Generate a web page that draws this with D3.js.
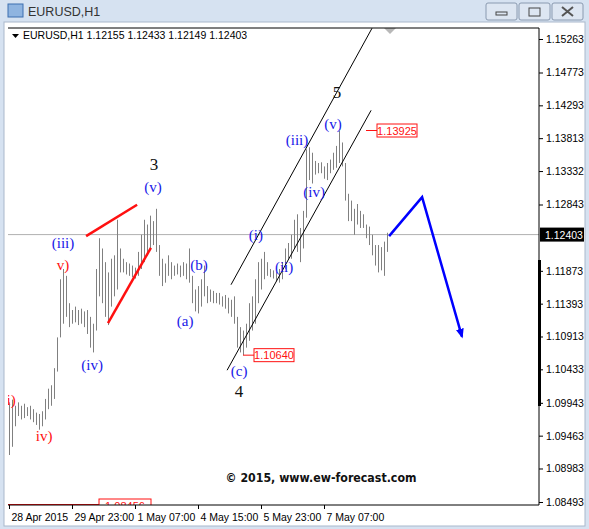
<!DOCTYPE html>
<html><head><meta charset="utf-8">
<script src="https://cdn.jsdelivr.net/npm/d3@7"></script>
<style>body{margin:0;background:#d6e2f1;}svg{display:block;}</style>
</head><body>
<svg id="c" width="589" height="529"></svg>
<script>
// hourly bars, high / low
const highs = [1.0995,1.0999,1.0990,1.0995,1.0990,1.0993,1.0988,1.0990,1.0985,1.0980,1.0978,1.0982,1.1000,1.1015,1.1020,1.1045,1.1090,1.1175,1.1190,1.1180,
  1.1140,1.1130,1.1135,1.1130,1.1132,1.1128,1.1130,1.1120,1.1110,1.1190,1.1235,1.1220,1.1200,1.1185,1.1205,1.1210,1.1262,1.1220,1.1205,1.1200,
  1.1198,1.1195,1.1192,1.1215,1.1240,1.1262,1.1255,1.1268,1.1260,1.1278,1.1225,1.1205,1.1198,1.1210,1.1200,1.1195,1.1198,1.1195,1.1200,1.1198,
  1.1220,1.1180,1.1160,1.1165,1.1175,1.1195,1.1165,1.1160,1.1158,1.1155,1.1155,1.1150,1.1152,1.1148,1.1145,1.1150,1.1120,1.1105,1.1100,1.1110,
  1.1140,1.1150,1.1175,1.1200,1.1205,1.1215,1.1200,1.1190,1.1188,1.1186,1.1190,1.1200,1.1220,1.1228,1.1240,1.1262,1.1270,1.1250,1.1275,1.1365,
  1.1368,1.1360,1.1348,1.1345,1.1346,1.1340,1.1345,1.1350,1.1360,1.1370,1.1392,1.1375,1.1345,1.1300,1.1290,1.1278,1.1285,1.1275,1.1270,1.1255,
  1.1252,1.1240,1.1225,1.1225,1.1222,1.1230,1.1243];
const lows = [1.0918,1.0930,1.0960,1.0975,1.0970,1.0972,1.0975,1.0970,1.0966,1.0962,1.0955,1.0960,1.0970,1.0985,1.0990,1.1000,1.1040,1.1090,1.1110,1.1120,
  1.1105,1.1110,1.1112,1.1108,1.1110,1.1105,1.1095,1.1075,1.1068,1.1100,1.1150,1.1140,1.1120,1.1108,1.1135,1.1150,1.1160,1.1185,1.1185,1.1182,
  1.1180,1.1178,1.1176,1.1180,1.1190,1.1200,1.1210,1.1220,1.1225,1.1215,1.1180,1.1165,1.1170,1.1180,1.1175,1.1180,1.1182,1.1178,1.1180,1.1175,
  1.1170,1.1140,1.1128,1.1125,1.1135,1.1150,1.1140,1.1142,1.1140,1.1140,1.1138,1.1135,1.1132,1.1125,1.1120,1.1110,1.1075,1.1068,1.1064,1.1075,
  1.1085,1.1100,1.1110,1.1140,1.1160,1.1175,1.1180,1.1178,1.1176,1.1172,1.1170,1.1175,1.1190,1.1205,1.1205,1.1220,1.1215,1.1200,1.1220,1.1265,
  1.1320,1.1315,1.1328,1.1330,1.1330,1.1322,1.1320,1.1330,1.1335,1.1338,1.1345,1.1340,1.1290,1.1260,1.1260,1.1240,1.1255,1.1250,1.1250,1.1235,
  1.1225,1.1210,1.1195,1.1185,1.1188,1.1180,1.1215];
const priceTicks = [1.15263,1.14773,1.14293,1.13813,1.13332,1.12843,1.11873,1.11393,1.10913,1.10433,1.09943,1.09463,1.08983,1.08493];
const timeLabels = ["28 Apr 2015","29 Apr 23:00","1 May 07:00","4 May 15:00","5 May 23:00","7 May 07:00"];
const timeIdx = [0,21,42,63,84,105];
const lastPrice = 1.12403;
// wave labels [bar index, price, text, colour]
const waveLabels = [
  [0,1.0996,"ii)","red"],[11.7,1.0944,"iv)","red"],[18,1.1225,"(iii)","blue"],[18,1.1194,"v)","red"],
  [27.7,1.1047,"(iv)","blue"],[48.3,1.1341,"3","black"],[48,1.1307,"(v)","blue"],
  [58.7,1.1111,"(a)","blue"],[63.3,1.1194,"(b)","blue"],[76.7,1.1038,"(c)","blue"],[76.7,1.1009,"4","black"],
  [82.3,1.1237,"(i)","blue"],[91.7,1.1191,"(ii)","blue"],[96,1.1377,"(iii)","blue"],[101.7,1.1300,"(iv)","blue"],
  [108,1.1399,"(v)","blue"],[109.3,1.1446,"5","black"]];
const redLines = [[[25.7,1.1238],[42.7,1.1284]],[[33,1.1111],[47.3,1.1221]]];
const channel = [[[74,1.1167],[121,1.1542]],[[72.7,1.1042],[120.7,1.1422]]];
const forecast = [[126.7,1.1238],[137.7,1.1295],[151,1.1091]];
// price tags [bar index, price, text]
const tags = [[78,1.1064,"1.10640"],[119,1.13925,"1.13925"]];

const svg = d3.select("#c");
const L = 8, R = 539, T = 28, B = 505;
const AX = "Tahoma, Liberation Sans, sans-serif";
const x = d3.scaleLinear().domain([0,126]).range([9,387]);
const y = d3.scaleLinear().domain([1.08493,1.15263]).range([502,39]);

// window chrome
svg.append("rect").attr("x",4).attr("y",22).attr("width",581).attr("height",504).attr("fill","#fff").attr("stroke","#a9b8cc");
svg.append("text").attr("x",28).attr("y",16).attr("font-family",AX).attr("font-size",12.5).attr("fill","#333").text("EURUSD,H1");
svg.append("rect").attr("x",8).attr("y",4).attr("width",15).attr("height",13).attr("fill","#8fb4e0").attr("stroke","#3d6fb0");
[486,519,552].forEach(bx=>{
  svg.append("rect").attr("x",bx).attr("y",3).attr("width",31).attr("height",17).attr("rx",2).attr("fill","#dde6f2").attr("stroke","#8a9ab0");
});
svg.append("rect").attr("x",496).attr("y",12).attr("width",11).attr("height",3).attr("fill","none").attr("stroke","#444");
svg.append("rect").attr("x",529).attr("y",8).attr("width",11).attr("height",8).attr("fill","none").attr("stroke","#444");
svg.append("path").attr("d","M562,7 L573,16 M573,7 L562,16").attr("stroke","#555").attr("stroke-width",2);

const g = svg.append("g");
g.append("defs").append("clipPath").attr("id","pc").append("rect").attr("x",L).attr("y",T).attr("width",R-L).attr("height",B-T);
const p = g.append("g").attr("clip-path","url(#pc)");

// last price line
p.append("line").attr("x1",L).attr("x2",R).attr("y1",y(lastPrice)).attr("y2",y(lastPrice)).attr("stroke","#b0b0b0");

// bars
p.selectAll("line.bar").data(highs).join("line").attr("class","bar")
  .attr("x1",(d,i)=>x(i)+0.5).attr("x2",(d,i)=>x(i)+0.5)
  .attr("y1",d=>y(d)).attr("y2",(d,i)=>y(lows[i])).attr("stroke","#808080").attr("stroke-width",1);

const line = d3.line().x(d=>x(d[0])).y(d=>y(d[1]));
redLines.forEach(s=>p.append("path").attr("d",line(s)).attr("stroke","#ff1010").attr("stroke-width",2.5).attr("fill","none"));
channel.forEach(s=>p.append("path").attr("d",line(s)).attr("stroke","#000").attr("stroke-width",1).attr("fill","none"));

// forecast arrow
svg.append("defs").append("marker").attr("id","ah").attr("viewBox","0 0 10 10").attr("refX",8).attr("refY",5)
  .attr("markerWidth",4).attr("markerHeight",5).attr("orient","auto")
  .append("path").attr("d","M0,1 L10,5 L0,9 Z").attr("fill","#0000ff");
p.append("path").attr("d",line(forecast)).attr("stroke","#0000ff").attr("stroke-width",2.5).attr("fill","none").attr("marker-end","url(#ah)");

// wave labels
p.selectAll("text.w").data(waveLabels).join("text").attr("class","w")
  .attr("x",d=>x(d[0])).attr("y",d=>y(d[1])).attr("text-anchor","middle").attr("dominant-baseline","middle")
  .attr("font-family","Liberation Serif, serif").attr("font-size",d=>d[3]=="black"?17:15)
  .attr("fill",d=>d[3]=="blue"?"#1818e8":d[3]=="red"?"#ff1010":"#111").text(d=>d[2]);

// price tags
tags.forEach(([i,v,t])=>{
  const tx = x(i)+11;
  p.append("line").attr("x1",x(i)).attr("x2",tx).attr("y1",y(v)).attr("y2",y(v)).attr("stroke","#ff1010");
  p.append("rect").attr("x",tx).attr("y",y(v)-6.5).attr("width",40).attr("height",13).attr("fill","#fff").attr("stroke","#ff1010");
  p.append("text").attr("x",tx+20).attr("y",y(v)+4).attr("text-anchor","middle").attr("font-family","Liberation Sans, sans-serif")
    .attr("font-size",11).attr("fill","#ff1010").text(t);
});
// bottom clipped tag
p.append("line").attr("x1",L).attr("x2",x(30)).attr("y1",B).attr("y2",B).attr("stroke","#ff1010").attr("stroke-width",2);
p.append("rect").attr("x",x(30)).attr("y",B-6).attr("width",52).attr("height",13).attr("fill","#fff").attr("stroke","#ff1010");
p.append("text").attr("x",x(30)+26).attr("y",B+5).attr("text-anchor","middle").attr("font-family","Liberation Sans, sans-serif")
  .attr("font-size",11).attr("fill","#ff1010").text("1.08456");

// shift marker
p.append("path").attr("d",`M${x(125)},${T} l12,0 l-6,6 Z`).attr("fill","#b8b8b8");

// header
g.append("path").attr("d",`M12,34 l7,0 l-3.5,4 Z`).attr("fill","#000");
g.append("text").attr("x",23).attr("y",39).attr("font-family",AX).attr("font-size",10.5).attr("fill","#000")
  .text("EURUSD,H1  1.12155 1.12433 1.12149 1.12403");
g.append("text").attr("x",x(104)).attr("y",482).attr("text-anchor","middle").attr("font-family","DejaVu Sans, sans-serif")
  .attr("font-weight","bold").attr("font-size",12.5).attr("textLength",191).attr("lengthAdjust","spacingAndGlyphs")
  .attr("fill","#111").text("\u00a9 2015, www.ew-forecast.com");

// frame axes
g.append("path").attr("d",`M${L},${T} H${R} V${B} H${L}`).attr("fill","none").attr("stroke","#000");
const ya = d3.axisRight(y).tickValues(priceTicks).tickFormat(d3.format(".5f")).tickSize(4);
g.append("g").attr("transform",`translate(${R},0)`).call(ya)
  .call(a=>{a.select(".domain").remove();a.selectAll("text").attr("font-family",AX).attr("font-size",10.5).attr("fill","#000").attr("x",7);});
g.append("rect").attr("x",R-1).attr("y",260).attr("width",3).attr("height",146).attr("fill","#000");
g.append("rect").attr("x",R+1).attr("y",y(lastPrice)-7).attr("width",44).attr("height",14).attr("fill","#000");
g.append("text").attr("x",R+6).attr("y",y(lastPrice)+4).attr("font-family",AX).attr("font-size",10.5).attr("fill","#fff").text("1.12403");
const xa = d3.axisBottom(x).tickValues(timeIdx).tickFormat((d,i)=>timeLabels[i]).tickSize(4);
g.append("g").attr("transform",`translate(0,${B})`).call(xa)
  .call(a=>{a.select(".domain").remove();a.selectAll("text").attr("font-family",AX).attr("font-size",10.5).attr("fill","#000").attr("text-anchor","start").attr("x",2).attr("dy","0.9em");});
</script>
</body></html>
